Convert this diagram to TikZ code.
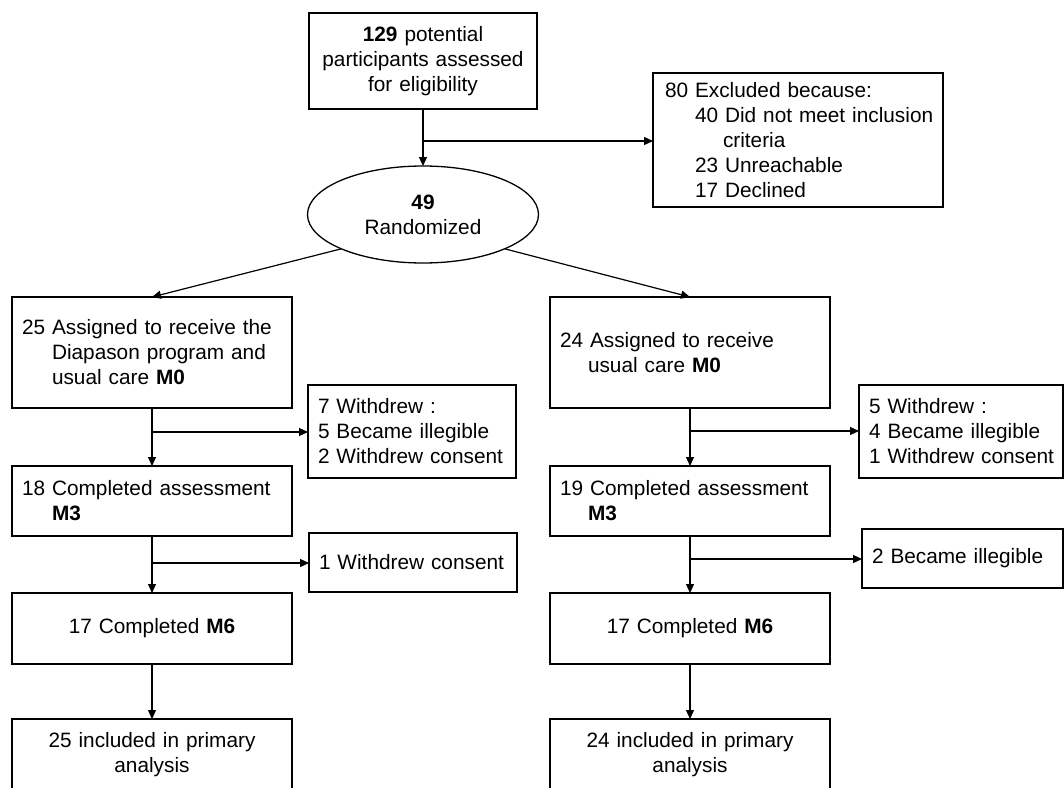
\documentclass[tikz,border=0pt]{standalone}
\usepackage{fontspec}
\setmainfont{Liberation Sans}
\usetikzlibrary{arrows.meta,shapes.geometric}
\begin{document}
\begin{tikzpicture}[x=1pt,y=-1pt,
  every node/.style={font=\fontsize{20.8}{25}\selectfont, outer sep=0pt},
  bx/.style={draw, line width=1.3pt, rectangle, inner xsep=10pt, inner ysep=0pt},
  ell/.style={draw, line width=1.3pt, ellipse, inner sep=0pt, align=center},
  arr/.style={line width=1.2pt, -{Triangle[length=9pt,width=8pt]}},
  ln/.style={line width=1.2pt}]
\useasboundingbox (0,0) rectangle (1064,787);

\node[bx, text width=208pt, align=center, minimum height=96pt] (top) at (423,61)
  {\textbf{129} potential\\participants assessed\\for eligibility};
\node[bx, inner xsep=12pt, text width=266pt, align=left, minimum height=134pt] (excl) at (798,140)
  {\mbox{80 Excluded because:}\\\mbox{\hspace*{30pt}40 Did not meet inclusion}\\\hspace*{58pt}criteria\\\hspace*{30pt}23 Unreachable\\\hspace*{30pt}17 Declined};
\node[ell, minimum width=231pt, minimum height=97pt] (ell) at (423,214.5)
  {\textbf{49}\\Randomized};

\node[bx, text width=260pt, align=left, minimum height=111pt] (L1) at (152,352.5)
  {\mbox{25 Assigned to receive the}\\\hspace*{30pt}Diapason program and\\\hspace*{30pt}usual care \textbf{M0}};
\node[bx, text width=260pt, align=left, minimum height=111pt] (R1) at (690,352.5)
  {24 Assigned to receive\\\hspace*{28pt}usual care \textbf{M0}};

\node[bx, text width=188pt, align=left, minimum height=93pt] (LW) at (412,431.5)
  {7 Withdrew :\\5 Became illegible\\\mbox{2 Withdrew consent}};
\node[bx, text width=184pt, align=left, minimum height=93pt] (RW) at (961,431.5)
  {5 Withdrew :\\4 Became illegible\\\mbox{1 Withdrew consent}};

\node[bx, text width=260pt, align=left, minimum height=70pt] (L2) at (152,501)
  {\mbox{18 Completed assessment}\\\hspace*{30pt}\textbf{M3}};
\node[bx, text width=260pt, align=left, minimum height=70pt] (R2) at (690,501)
  {\mbox{19 Completed assessment}\\\hspace*{28pt}\textbf{M3}};

\node[bx, text width=188pt, align=left, minimum height=59pt] (LW2) at (413,562.5)
  {\mbox{1 Withdrew consent}};
\node[bx, text width=181pt, align=left, minimum height=59pt] (RW2) at (962.5,558.5)
  {\mbox{2 Became illegible}};

\node[bx, text width=260pt, align=center, minimum height=71pt] (L3) at (152,628.5)
  {17 Completed \textbf{M6}};
\node[bx, text width=260pt, align=center, minimum height=71pt] (R3) at (690,628.5)
  {17 Completed \textbf{M6}};

\node[bx, text width=260pt, align=center, minimum height=72pt] (L4) at (152,755)
  {25 included in primary\\analysis};
\node[bx, text width=260pt, align=center, minimum height=72pt] (R4) at (690,755)
  {24 included in primary\\analysis};

\coordinate (b1) at (423,141);
\coordinate (bL1) at (152,432);
\coordinate (bR1) at (690,431);
\coordinate (bL2) at (152,563);
\coordinate (bR2) at (690,559);

\draw[arr] (top) -- (ell);
\draw[arr] (b1) -- (b1 -| excl.west);
\draw[arr] (ell.south west) -- (L1.north);
\draw[arr] (ell.south east) -- (R1.north);

\draw[arr] (L1) -- (L2);
\draw[arr] (bL1) -- (bL1 -| LW.west);
\draw[arr] (R1) -- (R2);
\draw[arr] (bR1) -- (bR1 -| RW.west);

\draw[arr] (L2) -- (L3);
\draw[arr] (bL2) -- (bL2 -| LW2.west);
\draw[arr] (R2) -- (R3);
\draw[arr] (bR2) -- (bR2 -| RW2.west);

\draw[arr] (L3) -- (L4);
\draw[arr] (R3) -- (R4);
\end{tikzpicture}
\end{document}
